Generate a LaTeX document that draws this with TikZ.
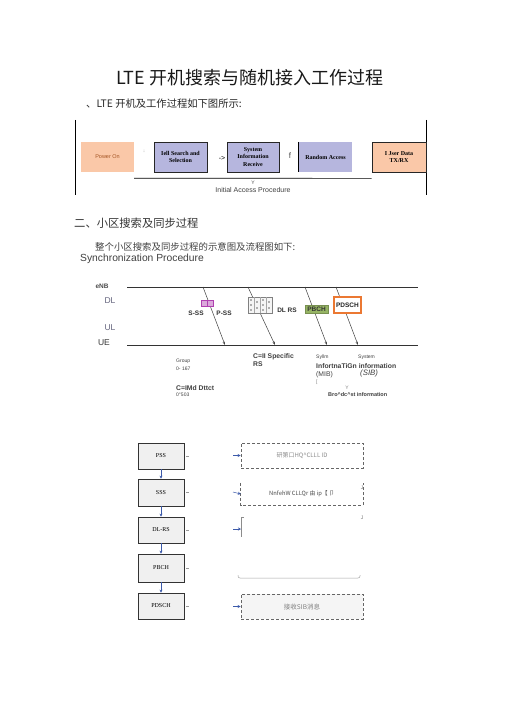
\documentclass[tikz,border=0pt]{standalone}
\usepackage{fontspec}
\setmainfont{Liberation Sans}
\newfontfamily\serif{Liberation Serif}
\newfontfamily\cjk{Noto Sans CJK SC}
\usetikzlibrary{arrows.meta,calc}
\definecolor{porange}{RGB}{250,200,168}
\definecolor{lav}{RGB}{182,182,222}
\definecolor{ssp}{RGB}{176,64,176}
\definecolor{pbchg}{RGB}{150,180,100}
\definecolor{pdsor}{RGB}{235,120,50}
\definecolor{fblue}{RGB}{60,90,170}
\definecolor{dlgray}{RGB}{100,100,125}
\tikzset{
  topbox/.style={minimum width=53pt,minimum height=30pt,inner sep=1pt,align=center,font=\serif\bfseries\fontsize{6}{7.5}\selectfont},
  lavbox/.style={topbox,fill=lav,draw=black!85,line width=0.8pt},
  orbox/.style={topbox,fill=porange},
  sigline/.style={draw=black!75,line width=0.5pt,-{Stealth[length=3.5pt,width=2.5pt]}},
  tline/.style={draw=black!80,line width=0.9pt},
  small/.style={font=\fontsize{5.5}{6.5}\selectfont,text=black!75,inner sep=0pt,anchor=west},
  fbox/.style={draw=black!80,fill=gray!12,line width=0.7pt,minimum width=46pt,minimum height=26pt,inner sep=0pt,font=\serif\fontsize{6}{7}\selectfont},
  farrow/.style={draw=fblue,line width=0.5pt,-{Stealth[length=3pt,width=3pt]}},
  dbox/.style={draw=black!60,dash pattern=on 3pt off 2pt,line width=0.9pt},
  tick/.style={draw=black!40,line width=0.4pt},
}
\begin{document}
\begin{tikzpicture}[x=1pt,y=-1pt]
\useasboundingbox[fill=white] (0,0) rectangle (505,714);

% ---------- header texts ----------
\node[font=\cjk\fontsize{18}{20}\selectfont,text=black!90] (title) at (250,78) {LTE 开机搜索与随机接入工作过程};
\node[font=\cjk\fontsize{10.3}{12}\selectfont,text=black!85,anchor=west,inner sep=0pt] (intro) at (86,104) {、LTE 开机及工作过程如下图所示:};

% ---------- initial access flow ----------
\draw[line width=0.8pt] (75,120) -- (75,195);
\draw[line width=0.8pt] (426,120) -- (426,195);
\node[orbox,text=pdsor!70!black,font=\fontsize{5.5}{6.5}\selectfont] (power) at (107.5,157) {Power On};
\node[font=\fontsize{5}{6}\selectfont,text=black!30] (dn) at (144,151) {↓};
\node[lavbox] (cell) at (180.5,157) {Iell Search and\\Selection};
\node[font=\fontsize{7}{8}\selectfont] (ar1) at (222,158) {->};
\node[lavbox,minimum width=52pt] (sir) at (253,157) {System\\Information\\Receive};
\node[font=\fontsize{8}{9}\selectfont,text=black!70] (ff) at (290,156) {f};
\node[topbox,fill=lav] (ra) at (325.5,157) {Random Access};
\draw[line width=0.8pt] (ra.north west) -- (ra.south west);
\node[orbox,draw=black!85,line width=0.8pt,minimum width=54pt] (ue) at (399,157) {I Jser Data\\TX/RX};
\coordinate (bl) at ($(power.south east)+(0,6)$);
\coordinate (br) at ($(ue.south west)+(0,6)$);
\draw[line width=0.7pt] (bl) -- (br);
\node[font=\fontsize{5}{6}\selectfont,text=black!70] (yy) at (253,182.5) {Y};
\node[font=\fontsize{7}{8}\selectfont,text=black!75] (iap) at (253,190) {Initial Access Procedure};

% ---------- section 2 ----------
\node[font=\cjk\fontsize{11.3}{13}\selectfont,text=black!80,anchor=west,inner sep=0pt] (sec2) at (74,223) {二、小区搜索及同步过程};
\node[font=\cjk\fontsize{9.4}{11}\selectfont,text=black!75,anchor=west,inner sep=0pt] (sec2b) at (95,247) {整个小区搜索及同步过程的示意图及流程图如下:};
\node[font=\fontsize{10.3}{12}\selectfont,text=black!75,anchor=west,inner sep=0pt] (syncp) at (80,259) {Synchronization Procedure};

% ---------- sync diagram ----------
\coordinate (enbL) at (127,287); \coordinate (enbR) at (418,287);
\coordinate (ueL) at (127,345); \coordinate (ueR) at (418,345);
\draw[tline] (enbL) -- (enbR);
\draw[tline] (ueL) -- (ueR);
\node[font=\bfseries\fontsize{6.5}{7}\selectfont,text=black!70] (enb) at (102,286) {eNB};
\node[font=\fontsize{8.5}{9}\selectfont,text=dlgray] (dl) at (110,301) {DL};
\node[font=\fontsize{8.5}{9}\selectfont,text=dlgray] (ul) at (110,328) {UL};
\node[font=\fontsize{8.5}{9}\selectfont,text=black!80] (uel) at (104,343) {UE};

\coordinate (a1s) at (203,287); \coordinate (a1e) at (225,345);
\coordinate (a2s) at (248,287); \coordinate (a2e) at (275,345);
\coordinate (a3s) at (305,287); \coordinate (a3e) at (327,345);
\coordinate (a4s) at (336,287); \coordinate (a4e) at (358,345);
\draw[sigline] (a1s) -- (a1e);
\draw[sigline] (a2s) -- (a2e);
\draw[sigline] (a3s) -- (a3e);
\draw[sigline] (a4s) -- (a4e);

% S-SS / P-SS squares
\node[draw=ssp,fill=ssp!45,line width=0.8pt,minimum size=6pt,inner sep=0pt] (sss0) at (204,303) {};
\node[draw=ssp,fill=ssp!45,line width=0.8pt,minimum size=6pt,inner sep=0pt] (pss0) at (210,303) {};
\node[font=\bfseries\fontsize{6.5}{7}\selectfont,text=black!80] (sssl) at (196,313) {S-SS};
\node[font=\bfseries\fontsize{6.5}{7}\selectfont,text=black!80] (pssl) at (224,313) {P-SS};
% DL RS grid
\node[draw=black!50,fill=gray!8,line width=0.6pt,minimum width=24pt,minimum height=16pt,inner sep=0pt] (dlrs0) at (260,305) {};
\foreach \dx/\dy in {-9/-5,-9/0,-9/5,-3/-3,-3/3,3/-5,3/0,3/5,9/-3,9/3}{
  \fill[black!60] ($(dlrs0)+(\dx,\dy)$) circle (0.9pt);
}
\draw[black!35,line width=0.3pt] ($(dlrs0)+(-6,-8)$) -- ($(dlrs0)+(-6,8)$);
\draw[black!35,line width=0.3pt] ($(dlrs0)+(0,-8)$) -- ($(dlrs0)+(0,8)$);
\draw[black!35,line width=0.3pt] ($(dlrs0)+(6,-8)$) -- ($(dlrs0)+(6,8)$);
\node[font=\bfseries\fontsize{6.5}{7}\selectfont,text=black!80] (dlrsl) at (287,310) {DL RS};
\node[draw=pbchg!80!black,fill=pbchg,line width=0.6pt,minimum width=23pt,minimum height=8pt,inner sep=0pt,font=\bfseries\fontsize{6.5}{7}\selectfont,text=black!80] (pbch0) at (316.5,309) {PBCH};
\node[draw=pdsor,fill=white,line width=1.2pt,minimum width=27pt,minimum height=16pt,inner sep=0pt,font=\bfseries\fontsize{6.5}{7}\selectfont,text=black!85] (pdsch0) at (347.5,305) {PDSCH};

% labels under UE
\node[small,font=\fontsize{5}{6}\selectfont] (grp) at (176,361) {Group};
\node[small,font=\fontsize{5}{6}\selectfont] (grpn) at (176,368.5) {0-~167};
\node[small,font=\bfseries\fontsize{6.8}{7.5}\selectfont] (cid) at (176,388) {C=IMd Dttct};
\node[small,font=\fontsize{5}{6}\selectfont] (cidn) at (176,395) {0°503};
\node[small,font=\bfseries\fontsize{6.8}{7.5}\selectfont] (crs) at (253,357) {C=II Specific};
\node[small,font=\bfseries\fontsize{6.8}{7.5}\selectfont] (crs2) at (253,364.5) {RS};
\node[small,font=\fontsize{5}{6}\selectfont] (sy1) at (316,357.5) {Syllm};
\node[small,font=\fontsize{5}{6}\selectfont] (sy2) at (358,357.5) {System};
\node[small,font=\bfseries\fontsize{6.8}{7.5}\selectfont] (inf) at (316,366) {InfortnaTiGn information};
\node[small,font=\fontsize{6.8}{7.5}\selectfont] (mib) at (316,374.5) {(MIB)};
\node[small,font=\itshape\fontsize{7.8}{8.5}\selectfont] (sib) at (360,373.5) {(SIB)};
\node[small,font=\fontsize{5}{6}\selectfont,text=black!50] (brk) at (316,382) {[};
\node[font=\fontsize{5}{6}\selectfont,text=black!50,inner sep=0pt] (yv) at (347,388) {Y};
\node[small,font=\bfseries\fontsize{5.5}{6.5}\selectfont] (bro) at (328,394.5) {Bro\^{}dc\^{}st information};

% ---------- flowchart ----------
\node[fbox] (fpss) at (161,456) {PSS};
\node[fbox,minimum height=27pt] (fsss) at (161,492.5) {SSS};
\node[fbox] (fdlrs) at (161,530) {DL-RS};
\node[fbox,minimum height=28pt] (fpbch) at (161,568) {PBCH};
\node[fbox] (fpdsch) at (161,606) {PDSCH};
\draw[farrow] (fpss) -- (fsss);
\draw[farrow] (fsss) -- (fdlrs);
\draw[farrow] (fdlrs) -- (fpbch);
\draw[farrow] (fpbch) -- (fpdsch);
\foreach \n in {fpss,fsss,fdlrs,fpbch,fpdsch}{
  \draw[tick] ($(\n.east)+(2,0)$) -- ($(\n.east)+(5,0)$);
}

% dashed box 1
\node[dbox,minimum width=122pt,minimum height=25pt,inner sep=0pt,font=\cjk\fontsize{6}{7}\selectfont,text=black!45] (d1) at (302,455.5) {研第口HQ\^{}CLLL ID};
% box 2 (partial)
\node[minimum width=122pt,minimum height=22pt,inner sep=0pt,font=\cjk\fontsize{5.8}{7}\selectfont,text=black!70] (d2) at (302,494) {NnfehW CLLQr 由 ip【 卩};
\draw[dbox] (d2.north west) -- (d2.south west) -- (d2.south east) -- (d2.north east);
% box 3 (faint)
\coordinate (d3nw) at (241,517); \coordinate (d3sw) at (241,537);
\draw[black!45,line width=0.6pt] ($(d3nw)+(3,0)$) -- (d3nw) -- (d3sw);
\node[font=\fontsize{5}{6}\selectfont,text=black!55,inner sep=0pt] (j1) at (362,488) {J};
\node[font=\fontsize{5}{6}\selectfont,text=black!55,inner sep=0pt] (j2) at (362,518) {J};
% box 4 bottom line
\coordinate (d4l) at (238,575); \coordinate (d4r) at (360,575);
\draw[black!35,line width=0.5pt,rounded corners=2pt] (d4l) -- ($(d4l)+(0,3)$) -- ($(d4r)+(0,3)$) -- (d4r);
% dashed box 5
\node[dbox,fill=gray!8,minimum width=122pt,minimum height=25pt,inner sep=0pt,font=\cjk\fontsize{6.5}{7.5}\selectfont,text=black!50] (d5) at (302,606.5) {接收SIB消息};

% blue arrows into boxes
\coordinate (i1) at (233,455.5);
\coordinate (i2) at (233,492);
\coordinate (i3) at (233,529);
\coordinate (i5) at (233,606.5);
\draw[farrow] (i1) -- (d1.west);
\draw[farrow] (i2) -- (d2.west);
\draw[farrow] (i3) -- ($(d3sw)+(0,-8)$);
\draw[farrow] (i5) -- (d5.west);
\end{tikzpicture}
\end{document}
